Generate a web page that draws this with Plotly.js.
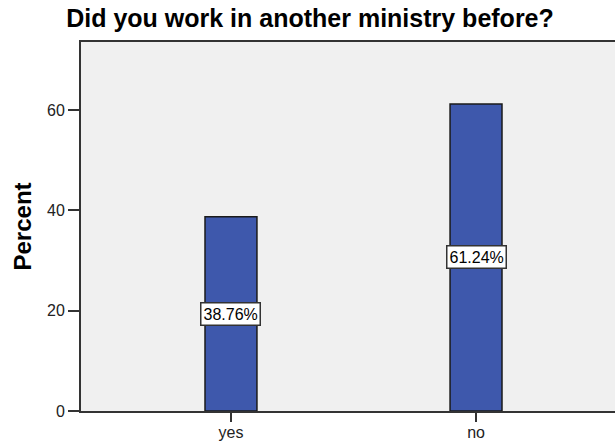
<!DOCTYPE html>
<html>
<head>
<meta charset="utf-8">
<script src="https://cdn.plot.ly/plotly-3.0.1.min.js"></script>
<style>
html,body{margin:0;padding:0;overflow:hidden;background:#fff;}
#chart{width:640px;height:444px;}
</style>
</head>
<body>
<div id="chart"></div>
<script>
const categories = ["yes", "no"];
const percentValues = [38.76, 61.24];
const valueLabels = ["38.76%", "61.24%"];
const yTickValues = [0, 20, 40, 60];
const yTickLabels = ["0", "20", "40", "60"];
const chartTitle = "Did you work in another ministry before?";
const yTitle = "Percent";

const trace = {
  type: "bar",
  x: categories,
  y: percentValues,
  width: 0.212,
  marker: {color: "#3e58ac", line: {color: "#1a1a1a", width: 1.5}},
  hoverinfo: "none"
};

const annotations = categories.map((c, i) => ({
  x: c, y: percentValues[i] / 2, xref: "x", yref: "y",
  text: valueLabels[i], showarrow: false,
  font: {family: "Liberation Sans, Arial, sans-serif", size: 16, color: "#000"},
  bgcolor: "#ffffff", bordercolor: "#333", borderwidth: 1.5, borderpad: 2
}));
annotations.push({
  xref: "paper", yref: "paper", x: -(81 - 22) / 545, y: 0.5,
  text: "<b>" + yTitle + "</b>", showarrow: false, textangle: -90,
  xanchor: "center", yanchor: "middle",
  font: {family: "Liberation Sans, Arial, sans-serif", size: 24, color: "#000"}
});

const layout = {
  width: 640, height: 444,
  margin: {l: 81, r: 14, t: 42, b: 32.5},
  paper_bgcolor: "#ffffff",
  plot_bgcolor: "#f0f0f0",
  showlegend: false,
  title: {
    text: "<b>" + chartTitle + "</b>",
    xref: "container", yref: "container", x: 310 / 640, y: 1 - 18 / 444,
    xanchor: "center", yanchor: "middle",
    font: {family: "Liberation Sans, Arial, sans-serif", size: 25, color: "#000"}
  },
  xaxis: {
    type: "category", range: [-0.612, 1.612],
    showline: true, linecolor: "#333", linewidth: 2, mirror: true,
    ticks: "outside", ticklen: 9, tickwidth: 2, tickcolor: "#333",
    ticklabelstandoff: -3,
    showgrid: false, zeroline: false,
    tickfont: {family: "Liberation Sans, Arial, sans-serif", size: 16, color: "#222"}
  },
  yaxis: {
    range: [0, 73.6],
    tickvals: yTickValues, ticktext: yTickLabels,
    showline: true, linecolor: "#333", linewidth: 2, mirror: true,
    ticks: "outside", ticklen: 11, tickwidth: 2, tickcolor: "#333",
    showgrid: false, zeroline: false,
    tickfont: {family: "Liberation Sans, Arial, sans-serif", size: 16, color: "#222"}
  },
  bargap: 0,
  annotations: annotations
};

Plotly.newPlot("chart", [trace], layout, {staticPlot: true, displayModeBar: false});
</script>
</body>
</html>
